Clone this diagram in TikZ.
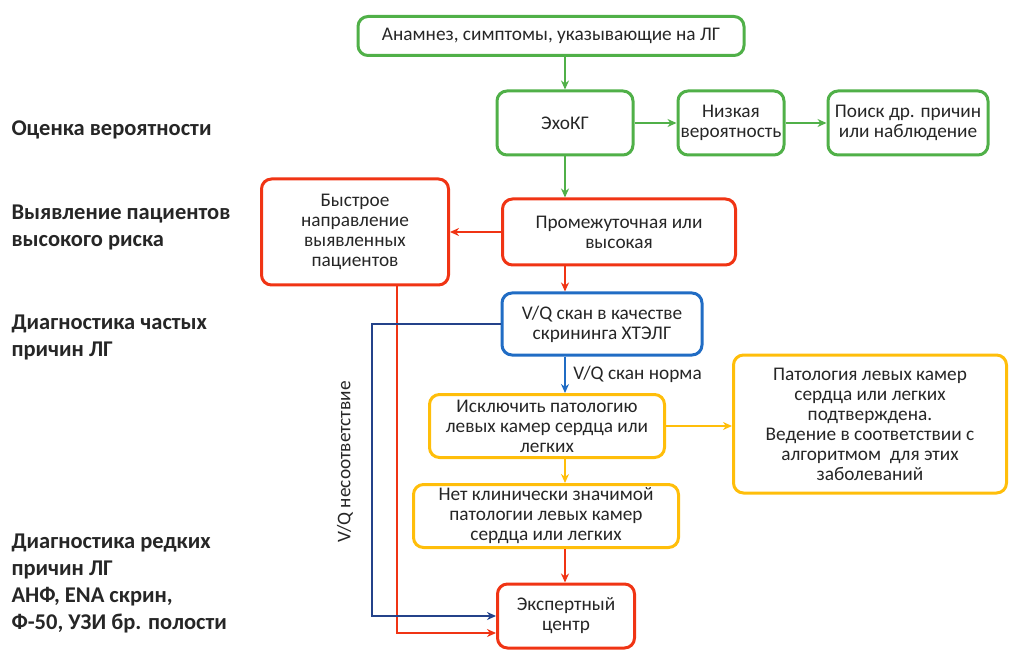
\documentclass[tikz,border=0pt]{standalone}
\usepackage{fontspec}
\setmainfont{Carlito}
\usetikzlibrary{arrows.meta}

\definecolor{grn}{RGB}{80,176,72}
\definecolor{rd}{RGB}{240,52,20}
\definecolor{blu}{RGB}{32,108,196}
\definecolor{dblu}{RGB}{36,66,138}
\definecolor{ylw}{RGB}{255,190,10}
\definecolor{ink}{RGB}{38,38,38}

\tikzset{
  box/.style={draw, line width=3pt, rounded corners=10pt, align=center,
    inner sep=2pt, text=ink, font=\fontsize{19.3}{20}\selectfont},
  gbox/.style={box, draw=grn},
  rbox/.style={box, draw=rd},
  bbox/.style={box, draw=blu},
  ybox/.style={box, draw=ylw},
  link/.style={->, line width=2pt},
  stage/.style={anchor=west, align=left, text=ink,
    font=\bfseries\fontsize{22.5}{27}\selectfont}
}

\begin{document}
\begin{tikzpicture}[>={Stealth[length=9pt, width=8pt]}, x=1pt, y=-1pt]

    \useasboundingbox (0,0) rectangle (1010,671);

    % --- Stages ---
    \node[stage] (s1) at (8,130) {Оценка вероятности};
    \node[stage] (s2) at (8,227) {Выявление пациентов\\высокого риска};
    \node[stage] (s3) at (8,337) {Диагностика частых\\причин ЛГ};
    \node[stage] (s4) at (8,583) {Диагностика редких\\причин ЛГ\\АНФ, ENA скрин,\\Ф-50, УЗИ бр. полости};

    % --- Boxes ---
    \node[gbox, minimum width=386pt, minimum height=39pt] (anam) at (551,36) {Анамнез, симптомы, указывающие на ЛГ};
    \node[gbox, minimum width=136pt, minimum height=64pt] (echo) at (565,123) {ЭхоКГ};
    \node[gbox, minimum width=106pt, minimum height=64pt] (low) at (731,123) {Низкая\\вероятность};
    \node[gbox, minimum width=160pt, minimum height=64pt] (other) at (908,123) {Поиск др. причин\\или наблюдение};
    \node[rbox, minimum width=187pt, minimum height=106pt] (fast) at (355,232) {Быстрое\\направление\\выявленных\\пациентов};
    \node[rbox, minimum width=233pt, minimum height=66pt] (mid) at (619,232) {Промежуточная или\\высокая};
    \node[bbox, minimum width=200pt, minimum height=62pt] (vq) at (602,324) {V/Q скан в качестве\\скрининга ХТЭЛГ};
    \node[ybox, minimum width=235pt, minimum height=63pt] (excl) at (547,426) {Исключить патологию\\левых камер сердца или\\легких};
    \node[ybox, minimum width=265pt, minimum height=63pt] (none) at (546,516) {Нет клинически значимой\\патологии левых камер\\сердца или легких};
    \node[ybox, minimum width=273pt, minimum height=138pt] (patho) at (870,424) {Патология левых камер\\сердца или легких\\подтверждена.\\Ведение в соответствии с\\алгоритмом~ для этих\\заболеваний};
    \node[rbox, minimum width=137pt, minimum height=64pt] (exp) at (566,616) {Экспертный\\центр};

    \coordinate (spine) at (565,0);

    % --- Links ---
    \draw[link, grn] (anam.south -| spine) -- (echo.north -| spine);
    \draw[link, grn] (echo.east) -- (low.west);
    \draw[link, grn] (low.east) -- (other.west);
    \draw[link, grn] (echo.south -| spine) -- (mid.north -| spine);
    \draw[link, rd] (mid.west) -- (fast.east);
    \draw[link, rd] (mid.south -| spine) -- (vq.north -| spine);
    \draw[link, blu] (vq.south -| spine) -- (excl.north -| spine)
        node[midway, right=4pt, text=ink, font=\fontsize{19.3}{20}\selectfont] (norm) {V/Q скан норма};
    \draw[link, ylw] (excl.east) -- (excl.east -| patho.west);
    \draw[link, ylw] (excl.south -| spine) -- (none.north -| spine);
    \draw[link, rd] (none.south -| spine) -- (exp.north -| spine);
    \draw[link, rd] ([xshift=42pt]fast.south) |- ([yshift=-17pt]exp.west);
    \draw[link, dblu] (vq.west) -- ++(-129,0) |- (exp.west);
    \node[rotate=90, text=ink, font=\fontsize{19.3}{20}\selectfont] (mism) at (345,462) {V/Q несоответствие};

\end{tikzpicture}
\end{document}
